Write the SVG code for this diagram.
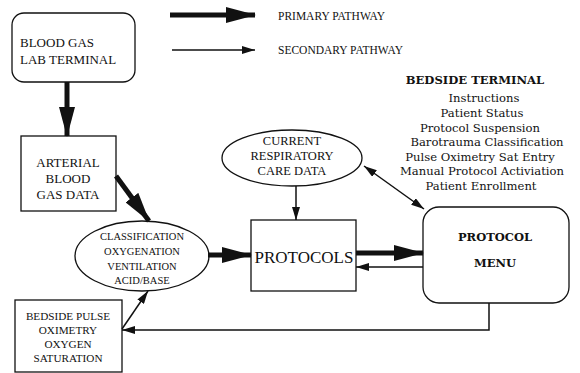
<svg xmlns="http://www.w3.org/2000/svg" width="580" height="373" viewBox="0 0 580 373">
<defs>
<style>
.box{fill:#fff;stroke:#111;stroke-width:1.3}
.t{font-family:"Liberation Serif","Times New Roman",serif;fill:#111}
.b{font-family:"DejaVu Serif","Liberation Serif",serif;fill:#111}
.bt{font-family:"DejaVu Serif","Liberation Serif",serif;fill:#111;font-size:11.6px;text-anchor:middle}
.pri{stroke:#111;stroke-width:5;fill:none}
.sec{stroke:#111;stroke-width:1.5;fill:none}
</style>
<marker id="hp" markerUnits="userSpaceOnUse" markerWidth="30" markerHeight="16" refX="29" refY="8" orient="auto"><path d="M0,0 L30,8 L0,16 z" fill="#111"/></marker>
<marker id="hs" markerUnits="userSpaceOnUse" markerWidth="13" markerHeight="8" refX="13" refY="4" orient="auto-start-reverse"><path d="M0,0 L13,4 L0,8 z" fill="#111"/></marker>
</defs>
<rect width="580" height="373" fill="#fff"/>

<g id="legend">
<line class="pri" x1="170" y1="15" x2="255" y2="15" marker-end="url(#hp)"/>
<line class="sec" x1="172" y1="50" x2="255" y2="50" marker-end="url(#hs)"/>
<text class="t" x="278" y="20" font-size="11.5">PRIMARY PATHWAY</text>
<text class="t" x="278" y="54" font-size="11.5">SECONDARY PATHWAY</text>
</g>

<g id="blood-gas-lab-terminal">
<rect class="box" x="12" y="13" width="123" height="69" rx="12"/>
<text class="t" x="20" y="47" font-size="13">BLOOD GAS</text>
<text class="t" x="20" y="64" font-size="13">LAB TERMINAL</text>
</g>

<g id="arterial-blood-gas-data">
<rect class="box" x="21" y="136" width="95" height="75"/>
<text class="t" x="68" y="167" font-size="13" text-anchor="middle">ARTERIAL</text>
<text class="t" x="68" y="183" font-size="13" text-anchor="middle">BLOOD</text>
<text class="t" x="68" y="199" font-size="13" text-anchor="middle">GAS DATA</text>
</g>

<g id="classification">
<ellipse class="box" cx="142" cy="256" rx="67" ry="35"/>
<text class="t" x="142" y="240" font-size="10.5" text-anchor="middle">CLASSIFICATION</text>
<text class="t" x="142" y="255" font-size="10.5" text-anchor="middle">OXYGENATION</text>
<text class="t" x="142" y="270" font-size="10.5" text-anchor="middle">VENTILATION</text>
<text class="t" x="142" y="284" font-size="10.5" text-anchor="middle">ACID/BASE</text>
</g>

<g id="bedside-pulse-oximetry">
<rect class="box" x="15" y="300" width="107" height="72"/>
<text class="t" x="68" y="320" font-size="11.2" text-anchor="middle">BEDSIDE PULSE</text>
<text class="t" x="68" y="334" font-size="11.2" text-anchor="middle">OXIMETRY</text>
<text class="t" x="68" y="348" font-size="11.2" text-anchor="middle">OXYGEN</text>
<text class="t" x="68" y="362" font-size="11.2" text-anchor="middle">SATURATION</text>
</g>

<g id="current-respiratory-care-data">
<ellipse class="box" cx="292" cy="158" rx="70" ry="28"/>
<text class="t" x="292" y="145" font-size="12.5" text-anchor="middle">CURRENT</text>
<text class="t" x="292" y="160" font-size="12.5" text-anchor="middle">RESPIRATORY</text>
<text class="t" x="292" y="175" font-size="12.5" text-anchor="middle">CARE DATA</text>
</g>

<g id="protocols">
<rect class="box" x="251" y="220" width="105" height="71"/>
<text class="t" x="304" y="263" font-size="17" text-anchor="middle">PROTOCOLS</text>
</g>

<g id="protocol-menu">
<rect class="box" x="423" y="207" width="146" height="96" rx="16"/>
<text class="b" x="495" y="241" font-size="11.5" font-weight="bold" text-anchor="middle">PROTOCOL</text>
<text class="b" x="495" y="267" font-size="11.5" font-weight="bold" text-anchor="middle">MENU</text>
</g>

<g id="bedside-terminal">
<text class="bt" x="475" y="84" font-weight="bold">BEDSIDE TERMINAL</text>
<text class="bt" x="484" y="102">Instructions</text>
<text class="bt" x="482" y="117">Patient Status</text>
<text class="bt" x="480" y="132">Protocol Suspension</text>
<text class="bt" x="487" y="146">Barotrauma Classification</text>
<text class="bt" x="480" y="161">Pulse Oximetry Sat Entry</text>
<text class="bt" x="482" y="175">Manual Protocol Activiation</text>
<text class="bt" x="481" y="190">Patient Enrollment</text>
</g>

<g id="connectors">
<line class="pri" x1="67" y1="82" x2="67" y2="136" marker-end="url(#hp)"/>
<line class="pri" x1="116" y1="176" x2="149" y2="221" marker-end="url(#hp)"/>
<line class="pri" x1="208" y1="255" x2="251" y2="255" marker-end="url(#hp)"/>
<line class="pri" x1="356" y1="253" x2="423" y2="253" marker-end="url(#hp)"/>
<line class="sec" x1="423" y1="267" x2="356" y2="267" marker-end="url(#hs)"/>
<line class="sec" x1="296" y1="186" x2="296" y2="220" marker-end="url(#hs)"/>
<polyline class="sec" points="489,303 489,330 122,330" marker-end="url(#hs)"/>
<line class="sec" x1="122" y1="329" x2="148" y2="291" marker-end="url(#hs)"/>
<line class="sec" x1="364" y1="166" x2="424" y2="209" marker-start="url(#hs)" marker-end="url(#hs)"/>
</g>
</svg>
